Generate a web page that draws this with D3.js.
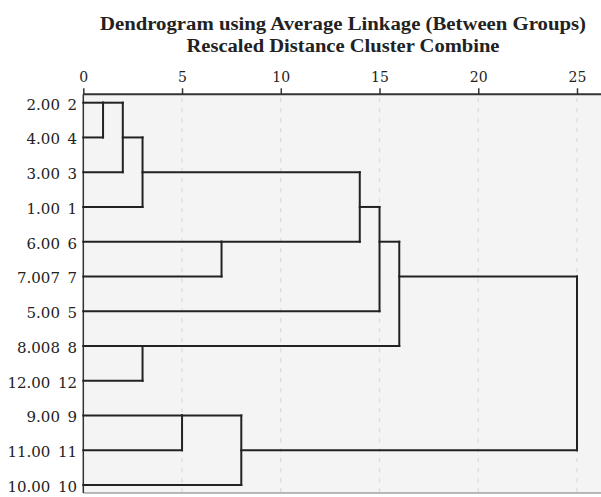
<!DOCTYPE html>
<html>
<head>
<meta charset="utf-8">
<script src="https://cdn.jsdelivr.net/npm/d3@7"></script>
<style>
  html, body { margin: 0; padding: 0; background: #fff; }
  svg { display: block; }
</style>
</head>
<body>
<svg id="chart" width="601" height="497"></svg>
<script>
// leaf order, top to bottom
const caseLabels = ["2.00", "4.00", "3.00", "1.00", "6.00", "7.007", "5.00", "8.008", "12.00", "9.00", "11.00", "10.00"];
const caseIds = [2, 4, 3, 1, 6, 7, 5, 8, 12, 9, 11, 10];

// agglomeration schedule: cluster joined, cluster joined, rescaled distance
const stageA = [2, 2, 2, 8, 9, 6, 9, 2, 2, 2, 2];
const stageB = [4, 3, 1, 12, 11, 7, 10, 6, 5, 8, 9];
const stageDist = [1, 2, 3, 3, 5, 7, 8, 14, 15, 16, 25];

const tickValues = [0, 5, 10, 15, 20, 25];
const titleLines = ["Dendrogram using Average Linkage (Between Groups)", "Rescaled Distance Cluster Combine"];

const svg = d3.select("#chart");
const plotL = 83.3, plotR = 601, plotT = 94.3, plotB = 493;

const x = d3.scaleLinear().domain([0, 25]).range([plotL, 577]);
const y = d3.scalePoint().domain(d3.range(caseIds.length)).range([102.7, 485]);

// title
const titleY = [29.5, 52];
const titleW = [486, 313];
svg.selectAll("text.title")
  .data(titleLines)
  .join("text")
  .attr("class", "title")
  .attr("x", 343)
  .attr("y", (d, i) => titleY[i])
  .attr("text-anchor", "middle")
  .attr("font-family", "Liberation Serif, serif")
  .attr("font-weight", "bold")
  .attr("font-size", 18.5)
  .attr("fill", "#222")
  .attr("textLength", (d, i) => titleW[i])
  .attr("lengthAdjust", "spacingAndGlyphs")
  .text(d => d);

// plot background
svg.append("rect")
  .attr("x", plotL).attr("y", plotT)
  .attr("width", plotR - plotL).attr("height", plotB - plotT)
  .attr("fill", "#f4f4f4");

// dashed grid
svg.append("g")
  .selectAll("line")
  .data(tickValues.slice(1))
  .join("line")
  .attr("x1", d => x(d)).attr("x2", d => x(d))
  .attr("y1", plotT + 4).attr("y2", plotB)
  .attr("stroke", "#d9d9d9")
  .attr("stroke-width", 1.2)
  .attr("stroke-dasharray", "4,6");

// borders
svg.append("line")
  .attr("x1", plotL).attr("x2", plotR).attr("y1", plotB).attr("y2", plotB)
  .attr("stroke", "#777").attr("stroke-width", 1.2);
svg.append("line")
  .attr("x1", plotL).attr("x2", plotL).attr("y1", plotT).attr("y2", plotB)
  .attr("stroke", "#333").attr("stroke-width", 1.5);

// top axis
const axis = svg.append("g")
  .attr("transform", `translate(0,${plotT})`)
  .call(d3.axisTop(x).tickValues(tickValues).tickSize(6).tickPadding(6));
axis.select(".domain").remove();
axis.selectAll(".tick line").attr("stroke", "#333").attr("stroke-width", 1.5);
axis.selectAll(".tick text")
  .attr("font-family", "DejaVu Serif, serif")
  .attr("font-size", 14)
  .attr("fill", "#222");
svg.append("line")
  .attr("x1", plotL).attr("x2", plotR).attr("y1", plotT).attr("y2", plotT)
  .attr("stroke", "#333").attr("stroke-width", 2);

// case labels
svg.append("g")
  .selectAll("text")
  .data(caseIds)
  .join("text")
  .attr("x", 77)
  .attr("y", (d, i) => y(i) + 7)
  .attr("text-anchor", "end")
  .attr("font-family", "DejaVu Serif, serif")
  .attr("font-size", 15)
  .attr("fill", "#222")
  .text((d, i) => `${caseLabels[i]}\u2002${d}`);

// build tree segments from the schedule
const clusters = new Map(caseIds.map((id, i) => [id, { row: i, dist: 0 }]));
const segs = [];
stageA.forEach((a, s) => {
  const ca = clusters.get(a), cb = clusters.get(stageB[s]);
  const d = stageDist[s];
  segs.push([ca.dist, ca.row, d, ca.row]);
  segs.push([cb.dist, cb.row, d, cb.row]);
  segs.push([d, ca.row, d, cb.row]);
  clusters.set(a, { row: Math.floor((ca.row + cb.row) / 2), dist: d });
  clusters.delete(stageB[s]);
});

svg.append("g")
  .attr("stroke", "#222")
  .attr("stroke-width", 2)
  .attr("stroke-linecap", "square")
  .selectAll("line")
  .data(segs)
  .join("line")
  .attr("x1", d => x(d[0])).attr("y1", d => y(d[1]))
  .attr("x2", d => x(d[2])).attr("y2", d => y(d[3]));
</script>
</body>
</html>
